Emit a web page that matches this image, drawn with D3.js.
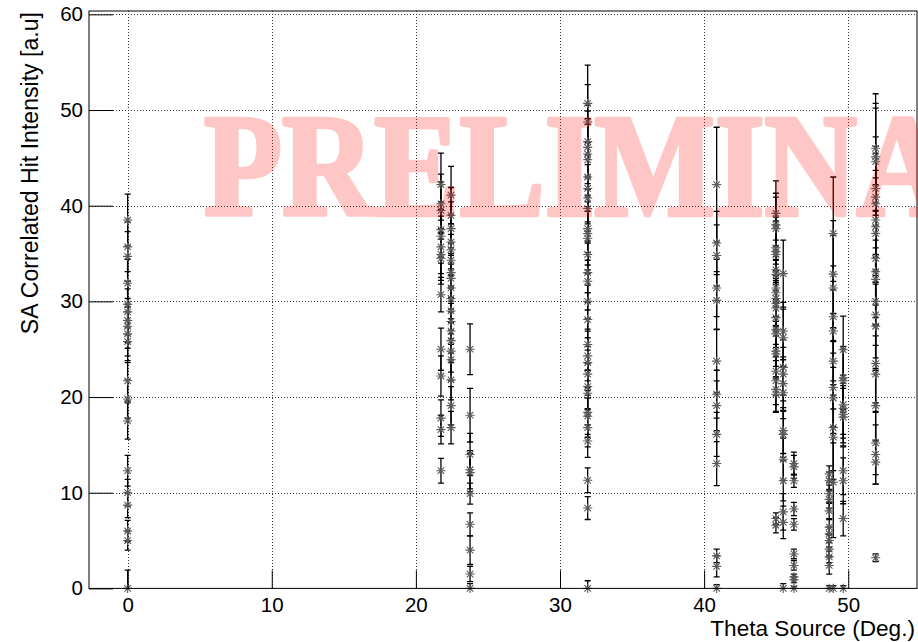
<!DOCTYPE html>
<html>
<head>
<meta charset="utf-8">
<script src="https://cdn.jsdelivr.net/npm/d3@7"></script>
<style>
  html, body { margin: 0; padding: 0; background: #fff; }
  svg { display: block; }
</style>
</head>
<body>
<svg id="chart" width="918" height="642"></svg>
<script>
// Source angle (deg.) of each measurement column
const thetaColumns = [0, 21.74, 22.44, 23.76, 31.92, 40.87, 44.98, 45.49, 46.23, 48.68, 48.96, 49.65, 51.9];

// Correlated hit intensity per column [a.u]
const intensity = [
  [38.5, 35.7, 34.7, 31.9, 29.7, 28.9, 28.0, 27.4, 26.6, 25.8, 21.7, 19.8, 17.5, 12.3, 10.0, 8.7, 6.0, 5.0, 0],
  [42.2, 40.2, 39.5, 37.5, 36.8, 35.7, 34.9, 34.5, 30.7, 25.0, 22.2, 17.8, 16.6, 12.3],
  [41.1, 39.0, 37.6, 36.2, 35.4, 34.3, 33.0, 32.4, 31.4, 30.3, 29.0, 27.9, 26.9, 25.9, 24.8, 23.9, 21.8, 19.1, 16.8],
  [25.0, 18.1, 14.0, 12.4, 12.1, 9.9, 6.7, 4.0, 1.5, 0],
  [50.7, 48.75, 46.7, 46.1, 45.4, 44.8, 43.0, 41.8, 40.8, 39.7, 37.6, 37.1, 36.6, 34.9, 33.0, 32.1, 30.0, 28.1, 25.5, 24.3, 23.6, 22.4, 21.1, 20.4, 18.4, 18.0, 16.8, 15.4, 11.3, 8.4, 0],
  [42.2, 36.1, 34.8, 31.4, 30.1, 23.75, 20.3, 19.1, 16.1, 13.05, 3.4, 2.3, 0],
  [39.2, 38.0, 37.6, 35.6, 35.2, 34.9, 33.3, 32.8, 31.4, 30.9, 30.3, 29.8, 29.3, 28.3, 27.05, 26.6, 24.8, 24.5, 22.7, 21.7, 20.8, 20.3, 7.3, 6.6],
  [32.9, 26.9, 26.2, 23.1, 22.4, 21.4, 20.45, 16.5, 16.1, 13.5, 11.25, 8.0, 6.9, 0],
  [13.05, 12.7, 11.25, 8.3, 6.7, 3.6, 2.4, 1.2, 0.9, 0],
  [11.95, 11.25, 9.9, 9.3, 8.1, 6.4, 5.7, 5.0, 4.1, 3.3, 2.4, 0],
  [37.1, 32.85, 31.4, 28.4, 26.9, 23.75, 21.0, 19.9, 16.8, 15.8, 11.1, 0],
  [24.95, 22.0, 21.7, 19.2, 18.8, 18.2, 17.9, 12.3, 11.25, 7.3, 0],
  [46.0, 45.1, 44.6, 41.8, 40.9, 40.2, 38.5, 37.8, 37.1, 34.5, 33.1, 32.3, 30.0, 28.6, 27.4, 23.5, 22.4, 19.1, 15.2, 14.0, 13.2, 3.2]
];

// Statistical uncertainty of each intensity value
const intensityErr = [
  [2.7, 2.6, 2.6, 2.5, 2.4, 2.4, 2.3, 2.3, 2.3, 2.2, 2.1, 2.0, 1.9, 1.6, 1.4, 1.3, 1.1, 1.0, 1.9],
  [3.3, 3.1, 3.0, 2.9, 2.8, 2.8, 2.7, 2.7, 1.8, 2.2, 2.1, 1.9, 1.5, 1.3],
  [3.0, 2.9, 2.8, 2.8, 2.7, 2.7, 2.6, 2.6, 2.5, 2.5, 2.4, 2.4, 2.3, 2.3, 2.2, 2.2, 2.1, 2.0, 1.7],
  [2.65, 2.8, 2.2, 2.0, 2.0, 1.1, 1.2, 1.5, 0.8, 0.5],
  [4.0, 3.9, 3.8, 3.8, 3.7, 3.7, 3.6, 3.5, 3.5, 3.4, 3.3, 3.3, 3.3, 3.2, 3.1, 3.0, 2.9, 2.8, 2.7, 2.6, 2.6, 2.5, 2.4, 2.4, 2.3, 2.2, 2.0, 1.7, 1.3, 1.2, 0.8],
  [6.0, 3.3, 3.2, 3.0, 3.0, 3.3, 2.5, 2.6, 2.3, 2.3, 0.7, 1.1, 0.4],
  [3.4, 3.3, 3.3, 3.2, 3.2, 3.1, 3.1, 3.0, 3.0, 3.0, 2.9, 2.9, 2.9, 2.8, 2.8, 2.8, 2.7, 2.6, 2.5, 2.5, 2.4, 1.8, 0.6, 0.8],
  [3.5, 3.0, 3.0, 2.9, 2.8, 2.8, 2.7, 2.4, 2.4, 2.2, 2.1, 1.9, 1.7, 0.5],
  [1.2, 1.2, 0.7, 0.7, 0.6, 0.5, 0.5, 0.3, 0.3, 0.2],
  [0.85, 0.9, 0.9, 0.9, 0.8, 0.8, 0.7, 0.7, 0.7, 0.6, 0.9, 0.3],
  [5.9, 5.6, 5.5, 5.3, 5.2, 5.0, 4.8, 4.7, 4.5, 4.4, 5.8, 0.3],
  [3.5, 3.3, 3.3, 3.1, 3.1, 3.0, 3.0, 2.5, 2.4, 1.8, 0.3],
  [5.7, 5.6, 5.6, 5.4, 5.3, 5.3, 5.2, 5.1, 5.1, 4.9, 4.8, 4.8, 4.6, 4.5, 4.4, 4.1, 4.0, 3.7, 3.3, 3.1, 2.3, 0.4]
];

const xTickValues = [0, 10, 20, 30, 40, 50];
const yTickValues = [0, 10, 20, 30, 40, 50, 60];
const xTitle = "Theta Source (Deg.)";
const yTitle = "SA Correlated Hit Intensity [a.u]";
const watermark = "PRELIMINARY";

const points = [];
thetaColumns.forEach((theta, i) => {
  intensity[i].forEach((v, j) => points.push({ theta, v, e: intensityErr[i][j] }));
});

const svg = d3.select("#chart");
const frame = { left: 89, right: 917, top: 11, bottom: 588.4 };
const font = "'Liberation Sans', Arial, Helvetica, sans-serif";

const x = d3.scaleLinear().domain([-2.68, 54.77]).range([frame.left, frame.right]);
const y = d3.scaleLinear().domain([0, 60.35]).range([frame.bottom, frame.top]);

svg.append("defs").append("clipPath").attr("id", "plot-clip")
  .append("rect")
  .attr("x", frame.left).attr("y", frame.top)
  .attr("width", frame.right - frame.left).attr("height", frame.bottom - frame.top);

// Dotted grid at the major ticks
const grid = svg.append("g").attr("stroke", "#333").attr("stroke-width", 1)
  .attr("stroke-dasharray", "1,2").attr("fill", "none");
grid.selectAll("line.gx").data(xTickValues).join("line")
  .attr("x1", d => Math.round(x(d)) + 0.5).attr("x2", d => Math.round(x(d)) + 0.5)
  .attr("y1", frame.top).attr("y2", frame.bottom);
grid.selectAll("line.gy").data(yTickValues.filter(d => d > 0)).join("line")
  .attr("x1", frame.left).attr("x2", frame.right)
  .attr("y1", d => Math.round(y(d)) + 0.5).attr("y2", d => Math.round(y(d)) + 0.5);

// Error bars with end caps
const bars = svg.append("g").attr("clip-path", "url(#plot-clip)")
  .attr("stroke", "#000").attr("stroke-width", 1.3).attr("fill", "none");
bars.selectAll("path").data(points).join("path")
  .attr("d", d => {
    const cx = x(d.theta), y1 = y(d.v + d.e), y0 = y(d.v - d.e);
    return `M${cx},${y1}V${y0}M${cx - 3},${y1}H${cx + 3}M${cx - 3},${y0}H${cx + 3}`;
  });

// Star markers
const r = 4.6, q = r * 0.7071;
const star = `M${-r},0H${r}M0,${-r}V${r}M${-q},${-q}L${q},${q}M${-q},${q}L${q},${-q}`;
svg.append("g").attr("stroke", "#5a5a5a").attr("stroke-width", 1.1).attr("fill", "none")
  .selectAll("path").data(points).join("path")
  .attr("transform", d => `translate(${x(d.theta)},${y(d.v)})`)
  .attr("d", star);

// Axes with inward ticks
const xMinor = d3.range(-2, 55, 2).filter(d => d % 10 !== 0);
const yMinor = d3.range(2, 60, 2).filter(d => d % 10 !== 0);

const gx = svg.append("g").attr("transform", `translate(0,${frame.bottom})`);
gx.call(d3.axisBottom(x).tickValues(xMinor).tickSize(-9).tickFormat(""));
gx.call(d3.axisBottom(x).tickValues(xTickValues).tickSize(-18).tickPadding(9.5).tickFormat(d3.format("d")));
gx.selectAll(".domain").remove();

const gy = svg.append("g").attr("transform", `translate(${frame.left},0)`);
gy.call(d3.axisLeft(y).tickValues(yMinor).tickSize(-13).tickFormat(""));
gy.call(d3.axisLeft(y).tickValues(yTickValues).tickSize(-24).tickPadding(6).tickFormat(d3.format("d")));
gy.selectAll(".domain").remove();

svg.selectAll(".tick line").attr("stroke", "#000").attr("stroke-width", 1);
svg.selectAll(".tick text").attr("font-family", font).attr("font-size", 20.5).attr("fill", "#000");

// Frame
svg.append("rect")
  .attr("x", frame.left).attr("y", frame.top)
  .attr("width", frame.right - frame.left).attr("height", frame.bottom - frame.top)
  .attr("fill", "none").attr("stroke", "#000").attr("stroke-width", 1);

// Axis titles
svg.append("text")
  .attr("x", 915).attr("y", 636)
  .attr("text-anchor", "end")
  .attr("font-family", font).attr("font-size", 22.6)
  .text(xTitle);
svg.append("text")
  .attr("transform", "translate(38,12) rotate(-90)")
  .attr("text-anchor", "end")
  .attr("font-family", font).attr("font-size", 23.1)
  .text(yTitle);

// Translucent watermark, drawn over the data
svg.append("g").attr("opacity", 0.22)
  .append("text")
  .attr("transform", "translate(204,215) scale(0.875,1)")
  .attr("font-family", "'Liberation Serif', 'Times New Roman', serif")
  .attr("font-weight", "bold").attr("font-size", 146)
  .attr("fill", "#ff0000").attr("stroke", "#ff0000").attr("stroke-width", 4.5)
  .attr("stroke-linejoin", "round")
  .text(watermark);
</script>
</body>
</html>
